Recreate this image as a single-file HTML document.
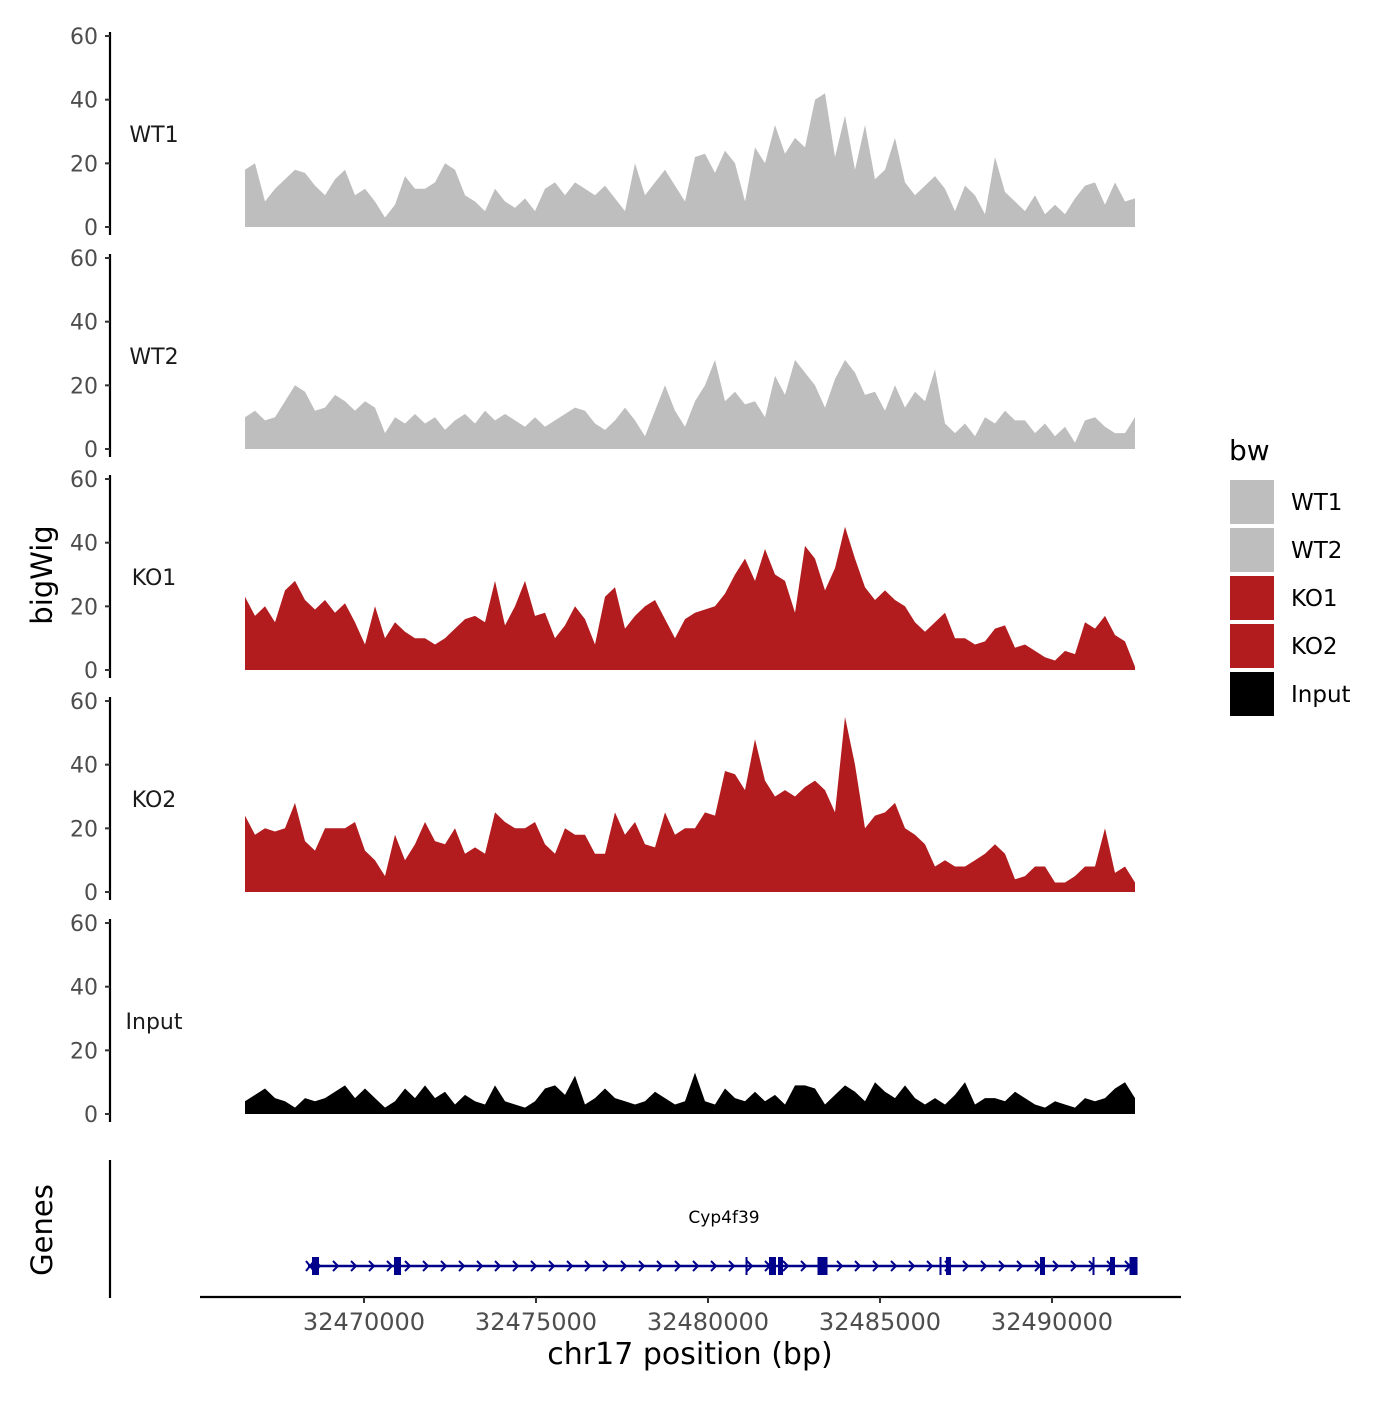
<!DOCTYPE html>
<html><head><meta charset="utf-8"><style>
body{margin:0;background:#fff}
svg text{font-family:"DejaVu Sans","Liberation Sans",sans-serif}
</style></head><body>
<svg id="c" width="1400" height="1400" xmlns="http://www.w3.org/2000/svg"></svg>
<script>
const trackNames=["WT1","WT2","KO1","KO2","Input"];
const trackColors=["#bebebe","#bebebe","#b21c1f","#b21c1f","#000000"];
const yTicks=[0,20,40,60];
const xTicks=[32470000,32475000,32480000,32485000,32490000];
const startBp=32466541, endBp=32492413;
const wt1=[18,20,8,12,15,18,17,13,10,15,18,10,12,8,3,7,16,12,12,14,20,18,10,8,5,12,8,6,9,5,12,14,10,14,12,10,13,9,5,20,10,14,18,13,8,22,23,17,24,20,8,25,20,32,23,28,25,40,42,22,35,18,32,15,18,28,14,10,13,16,12,5,13,10,4,22,11,8,5,10,4,7,4,9,13,14,7,14,8,9];
const wt2=[10,12,9,10,15,20,18,12,13,17,15,12,15,13,5,10,8,11,8,10,6,9,11,8,12,9,11,9,7,10,7,9,11,13,12,8,6,9,13,9,4,12,20,12,7,15,20,28,15,18,14,15,10,23,17,28,24,20,13,22,28,24,17,18,12,20,13,18,15,25,8,5,8,4,10,8,12,9,9,5,8,4,7,2,9,10,7,5,5,10];
const ko1=[23,17,20,15,25,28,22,19,22,18,21,15,8,20,10,15,12,10,10,8,10,13,16,17,15,28,14,20,28,17,18,10,14,20,16,8,23,26,13,17,20,22,16,10,16,18,19,20,24,30,35,28,38,30,28,18,39,35,25,32,45,35,26,22,25,22,20,15,12,15,18,10,10,8,9,13,14,7,8,6,4,3,6,5,15,13,17,11,9,1];
const ko2=[24,18,20,19,20,28,16,13,20,20,20,22,13,10,5,18,10,15,22,16,15,20,12,14,12,25,22,20,20,22,15,12,20,18,18,12,12,25,18,22,15,14,25,18,20,20,25,24,38,37,32,48,35,30,32,30,33,35,32,25,55,40,20,24,25,28,20,18,15,8,10,8,8,10,12,15,12,4,5,8,8,3,3,5,8,8,20,6,8,3];
const input=[4,6,8,5,4,2,5,4,5,7,9,5,8,5,2,4,8,5,9,5,7,3,6,4,3,9,4,3,2,4,8,9,6,12,3,5,8,5,4,3,4,7,5,3,4,13,4,3,8,5,4,7,4,6,3,9,9,8,3,6,9,7,4,10,7,5,9,5,3,5,3,6,10,3,5,5,4,7,5,3,2,4,3,2,5,4,5,8,10,5];
const series=[wt1,wt2,ko1,ko2,input];
const exons=[32468576,32470959,32481105,32481860,32482093,32483314,32486744,32486977,32489709,32491192,32491744,32492355];
const exonW=[6,6,1,6,4,9,1,4,4,1,4,7];
const geneStart=32468372, geneEnd=32492442;

const NS="http://www.w3.org/2000/svg";
const svg=document.getElementById("c");
function el(t,a,p){const e=document.createElementNS(NS,t);for(const k in a)e.setAttribute(k,a[k]);(p||svg).appendChild(e);return e;}
const xs=bp=>364+(bp-32470000)*0.0344;
const panel0=[227,449,670,892,1114];
const yScale=(i,v)=>panel0[i]-v*3.183;

trackNames.forEach((nm,i)=>{
  const g=el("g",{});
  
  
  const data=series[i], n=data.length;
  let d="M"+xs(startBp)+","+panel0[i];
  data.forEach((v,j)=>{const bp=startBp+(endBp-startBp)*j/(n-1);d+=" L"+xs(bp).toFixed(1)+","+yScale(i,v).toFixed(1);});
  d+=" L"+xs(endBp)+","+panel0[i]+" Z";
  const a=el("path",{d:d,fill:trackColors[i]},g);
  
  
  const ax=el("line",{x1:110,x2:110,y1:yScale(i,60)-4,y2:panel0[i]+8,stroke:"#000","stroke-width":2.2},g);
  
  
  yTicks.forEach(t=>{
    const y=yScale(i,t);
    el("line",{x1:105,x2:110,y1:y,y2:y,stroke:"#333","stroke-width":2},g);
    const tx=el("text",{x:98,y:y+8,"text-anchor":"end","font-size":22,fill:"#4d4d4d"},g);
    tx.textContent=t;
    
    
  });
  const lb=el("text",{x:154,y:panel0[i]-85,"text-anchor":"middle","font-size":22,fill:"#1a1a1a"},g);
  lb.textContent=nm;
  
  
});

const yt=el("text",{x:0,y:0,transform:"translate(52,575) rotate(-90)","text-anchor":"middle","font-size":29,fill:"#000"});
yt.textContent="bigWig";



const gt=el("text",{x:0,y:0,transform:"translate(52,1230) rotate(-90)","text-anchor":"middle","font-size":29,fill:"#000"});
gt.textContent="Genes";


const gax=el("line",{x1:110,x2:110,y1:1160,y2:1298,stroke:"#000","stroke-width":2.2});


const gl=el("line",{x1:xs(geneStart),x2:xs(geneEnd),y1:1266,y2:1266,stroke:"#00008b","stroke-width":2.5});


for(let x=xs(geneStart)+10;x<xs(geneEnd)-5;x+=18){
  el("path",{d:`M${x-3},${1261} L${x+2},${1266} L${x-3},${1271}`,fill:"none",stroke:"#00008b","stroke-width":2});
}
el("path",{d:`M${xs(geneStart)-2},1261 L${xs(geneStart)+6},1271 M${xs(geneStart)-2},1271 L${xs(geneStart)+6},1261`,stroke:"#00008b","stroke-width":2});
exons.forEach((bp,k)=>{
  const r=el("rect",{x:xs(bp)-exonW[k]/2,y:1257,width:exonW[k]+1,height:18,fill:"#00008b"});
  
  
});
const gn=el("text",{x:724,y:1223,"text-anchor":"middle","font-size":17,fill:"#000"});
gn.textContent="Cyp4f39";



const xa=el("line",{x1:200,x2:1181,y1:1297,y2:1297,stroke:"#000","stroke-width":2.2});


xTicks.forEach(t=>{
  const x=xs(t);
  el("line",{x1:x,x2:x,y1:1297,y2:1303,stroke:"#333","stroke-width":2});
  const tx=el("text",{x:x,y:1330,"text-anchor":"middle","font-size":24,fill:"#4d4d4d"});
  tx.textContent=t;
  
  
});
const xt=el("text",{x:690,y:1364,"text-anchor":"middle","font-size":30,fill:"#000"});
xt.textContent="chr17 position (bp)";



const lt=el("text",{x:1229,y:460,"font-size":28,fill:"#000"});
lt.textContent="bw";


trackNames.forEach((nm,i)=>{
  const y=480+i*48;
  const r=el("rect",{x:1230,y:y,width:44,height:44,fill:trackColors[i]});
  
  
  const t=el("text",{x:1291,y:y+30,"font-size":23,fill:"#000"});
  t.textContent=nm;
  
  
});
</script>
</body></html>
